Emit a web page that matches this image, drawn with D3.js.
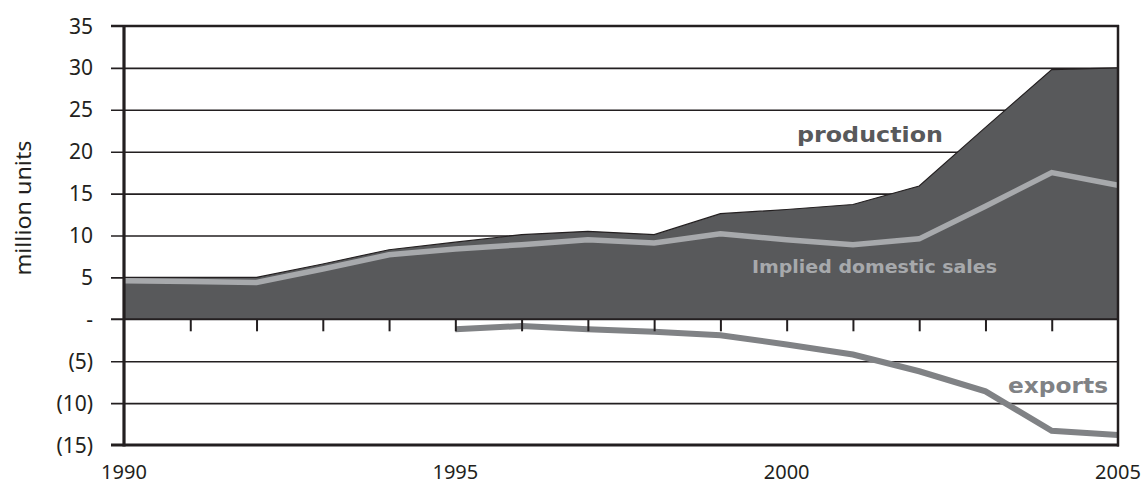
<!DOCTYPE html>
<html>
<head>
<meta charset="utf-8">
<script src="https://cdn.jsdelivr.net/npm/d3@7"></script>
<style>
  html, body { margin: 0; padding: 0; background: #ffffff; }
  svg { display: block; }
  text { font-family: "Noto Sans", "Open Sans", sans-serif; }
  text.series { font-family: "DejaVu Sans", "Noto Sans", sans-serif; }
</style>
</head>
<body>
<svg id="chart" width="1148" height="486"></svg>
<script>
// Annual figures, million units
const years = d3.range(1990, 2006);
const production = [5.0, 5.0, 5.0, 6.6, 8.3, 9.2, 10.1, 10.5, 10.1, 12.6, 13.1, 13.7, 15.9, 22.9, 29.8, 30.0];
const domesticSales = [4.6, 4.5, 4.4, 6.0, 7.7, 8.4, 8.9, 9.5, 9.1, 10.2, 9.5, 8.9, 9.6, 13.5, 17.5, 16.0];
const exportsVals = [null, null, null, null, null, -1.2, -0.8, -1.2, -1.5, -1.9, -3.0, -4.2, -6.2, -8.6, -13.3, -13.8];

const yTicks = [35, 30, 25, 20, 15, 10, 5, 0, -5, -10, -15];
const yTickLabels = ["35", "30", "25", "20", "15", "10", "5", "-", "(5)", "(10)", "(15)"];
const xLabelYears = [1990, 1995, 2000, 2005];

const svg = d3.select("#chart");
const plotLeft = 124, plotRight = 1118, plotTop = 26, plotBottom = 445;

const x = d3.scaleLinear().domain([1990, 2005]).range([plotLeft, plotRight]);
const y = d3.scaleLinear().domain([-15, 35]).range([plotBottom, plotTop]);

const ink = "#231f20";

// horizontal grid lines, extended left past the axis as tick marks
svg.append("g")
  .attr("transform", `translate(${plotRight},0)`)
  .call(d3.axisLeft(y).tickValues(yTicks.filter(v => v !== 0 && v !== 35 && v !== -15))
    .tickSize(plotRight - plotLeft + 13).tickFormat(""))
  .call(g => g.select(".domain").remove())
  .call(g => g.selectAll("line").attr("stroke", ink).attr("stroke-width", 1.6));

// production area
const rows = years.map((yr, i) => ({ yr, p: production[i], d: domesticSales[i], e: exportsVals[i] }));
svg.append("path")
  .datum(rows)
  .attr("fill", "#58595b")
  .attr("d", d3.area().x(r => x(r.yr)).y0(y(0)).y1(r => y(r.p)));
svg.append("path")
  .datum(rows)
  .attr("fill", "none")
  .attr("stroke", ink)
  .attr("stroke-width", 1.2)
  .attr("d", d3.line().x(r => x(r.yr)).y(r => y(r.p)));

// implied domestic sales
svg.append("path")
  .datum(rows)
  .attr("fill", "none")
  .attr("stroke", "#a7a9ac")
  .attr("stroke-width", 5.5)
  .attr("stroke-linejoin", "miter")
  .attr("d", d3.line().x(r => x(r.yr)).y(r => y(r.d)));

// exports
svg.append("path")
  .datum(rows.filter(r => r.e !== null))
  .attr("fill", "none")
  .attr("stroke", "#808285")
  .attr("stroke-width", 6)
  .attr("d", d3.line().x(r => x(r.yr)).y(r => y(r.e)));

// zero line with yearly tick marks hanging below it
svg.append("g")
  .attr("transform", `translate(0,${y(0)})`)
  .call(d3.axisBottom(x).tickValues(years.slice(1, -1)).tickSize(12).tickFormat(""))
  .call(g => g.select(".domain").remove())
  .call(g => g.selectAll("line").attr("stroke", ink).attr("stroke-width", 2));
svg.append("line")
  .attr("x1", plotLeft - 13).attr("x2", plotRight)
  .attr("y1", y(0)).attr("y2", y(0))
  .attr("stroke", ink).attr("stroke-width", 2);

// frame: top, bottom, left axis, right edge
svg.append("line").attr("x1", plotLeft - 13).attr("x2", plotRight + 1).attr("y1", y(35)).attr("y2", y(35))
  .attr("stroke", ink).attr("stroke-width", 2.5);
svg.append("line").attr("x1", plotLeft - 13).attr("x2", plotRight + 1).attr("y1", y(-15)).attr("y2", y(-15))
  .attr("stroke", ink).attr("stroke-width", 3);
svg.append("line").attr("x1", plotLeft).attr("x2", plotLeft).attr("y1", y(35) - 1).attr("y2", y(-15) + 1.5)
  .attr("stroke", ink).attr("stroke-width", 3.2);
svg.append("line").attr("x1", plotRight).attr("x2", plotRight).attr("y1", y(35) - 1).attr("y2", y(-15) + 1.5)
  .attr("stroke", ink).attr("stroke-width", 2.5);

// y tick labels
svg.append("g").selectAll("text")
  .data(yTicks)
  .join("text")
  .attr("x", 93)
  .attr("y", v => y(v))
  .attr("dy", "0.36em")
  .attr("text-anchor", "end")
  .attr("font-size", 21)
  .attr("fill", ink)
  .text((v, i) => yTickLabels[i]);

// x tick labels
svg.append("g").selectAll("text")
  .data(xLabelYears)
  .join("text")
  .attr("x", v => x(v))
  .attr("y", 479)
  .attr("text-anchor", "middle")
  .attr("font-size", 20)
  .attr("fill", ink)
  .text(v => v);

// y axis title
svg.append("text")
  .attr("transform", `translate(31,${208}) rotate(-90)`)
  .attr("text-anchor", "middle")
  .attr("font-size", 22)
  .attr("fill", ink)
  .attr("textLength", 135).attr("lengthAdjust", "spacingAndGlyphs")
  .text("million units");

// series labels
svg.append("text").attr("class", "series")
  .attr("x", 797).attr("y", 142)
  .attr("font-size", 22).attr("font-weight", "bold")
  .attr("fill", "#58595b")
  .attr("textLength", 146).attr("lengthAdjust", "spacingAndGlyphs")
  .text("production");
svg.append("text").attr("class", "series")
  .attr("x", 752).attr("y", 273)
  .attr("font-size", 18).attr("font-weight", "bold")
  .attr("fill", "#a7a9ac")
  .attr("textLength", 245).attr("lengthAdjust", "spacingAndGlyphs")
  .text("Implied domestic sales");
svg.append("text").attr("class", "series")
  .attr("x", 1008).attr("y", 393)
  .attr("font-size", 22).attr("font-weight", "bold")
  .attr("fill", "#808285")
  .attr("textLength", 100).attr("lengthAdjust", "spacingAndGlyphs")
  .text("exports");
</script>
</body>
</html>
